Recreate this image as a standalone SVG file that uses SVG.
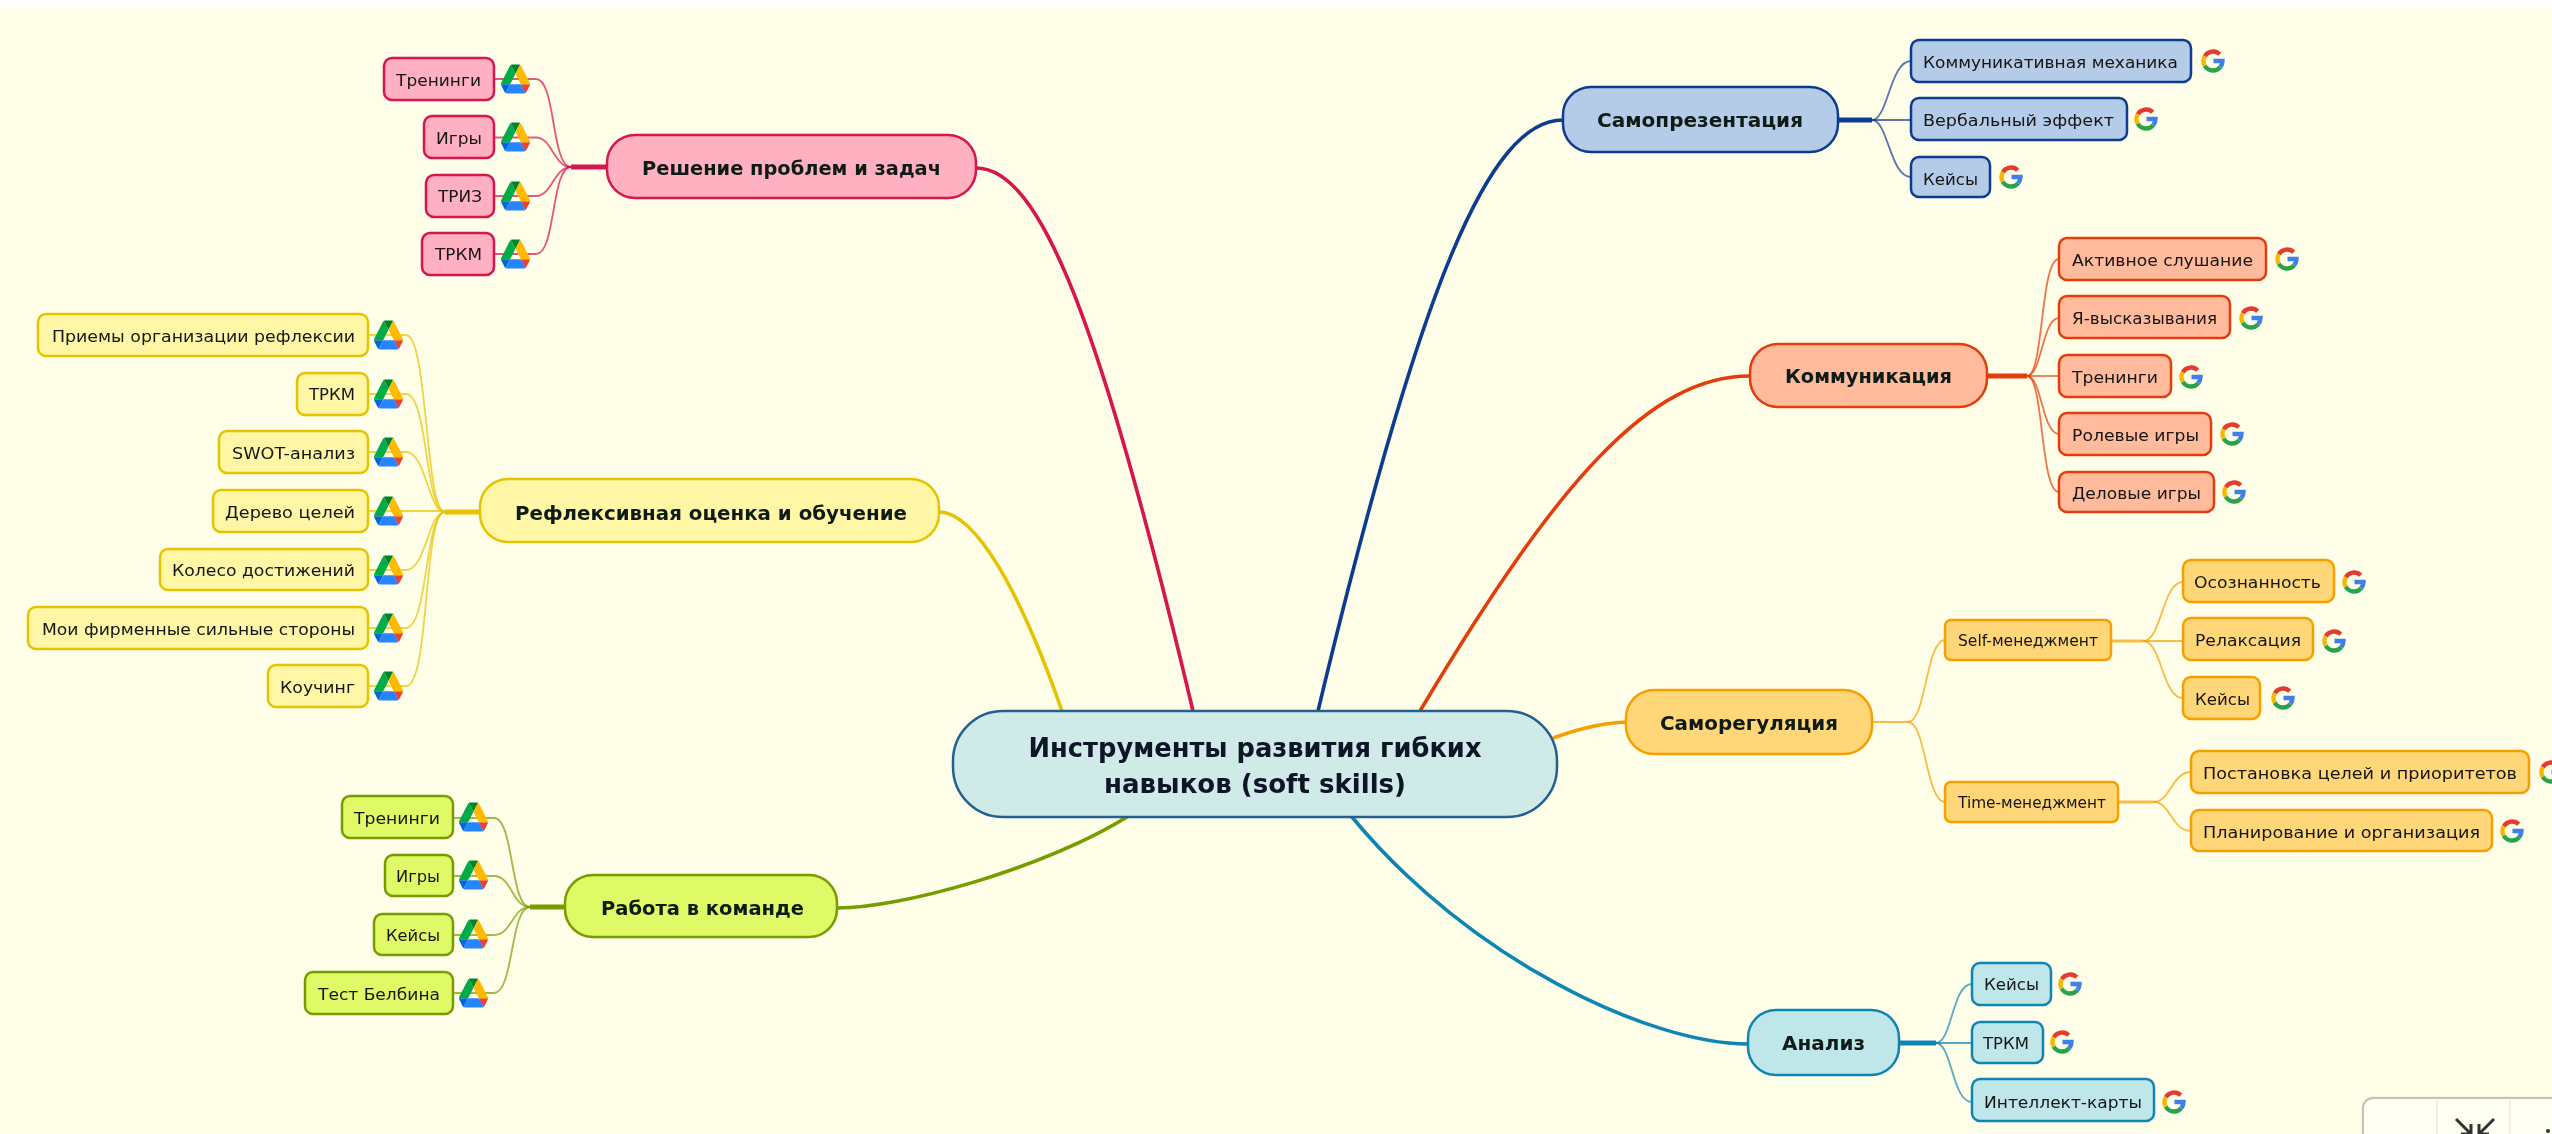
<svg xmlns="http://www.w3.org/2000/svg" width="2552" height="1134" viewBox="0 0 2552 1134">
<style>
text{font-family:"DejaVu Sans","Liberation Sans",sans-serif;fill:#151515;font-size:15.5px}
.m text,text.m{font-weight:bold;font-size:20px;fill:#101a14}
.c text{font-weight:bold;font-size:26px;fill:#0c1226}
rect{stroke-width:2.5}
.pink rect{fill:#ffb1c2;stroke:#d6124f}
.yel rect{fill:#fff6a6;stroke:#e6c300}
.grn rect{fill:#dffa66;stroke:#779c00}
.blu rect{fill:#b5cce9;stroke:#0e3a90}
.red rect{fill:#ffbb9c;stroke:#e13d0e}
.org rect{fill:#ffd778;stroke:#f5a000}
.tea rect{fill:#bfe7ea;stroke:#0f85b5}
.c rect{fill:#d0ebe7;stroke:#20618f}
#connectors path{fill:none}
.tk{stroke-width:3.6}
.hb{stroke-width:5}
.th{stroke-width:1.8;opacity:.7}
.pink-l{stroke:#d6124f}.yel-l{stroke:#e6c300}.grn-l{stroke:#779c00}.blu-l{stroke:#0e3a90}.red-l{stroke:#e13d0e}.org-l{stroke:#f5a000}.tea-l{stroke:#0f85b5}
</style>
<defs>
<filter id="soft" x="0" y="0" width="100%" height="100%" filterUnits="userSpaceOnUse"><feGaussianBlur stdDeviation="0.7"/></filter>
<symbol id="drive" viewBox="0 1.500 87.3 78" width="29" height="29" preserveAspectRatio="none" overflow="visible">
<path fill="#0066da" d="m6.6 66.85 3.85 6.65c.8 1.4 1.95 2.5 3.3 3.3l13.75-23.8h-27.5c0 1.55.4 3.1 1.2 4.5z"/>
<path fill="#00ac47" d="m43.65 25-13.75-23.8c-1.35.8-2.5 1.9-3.3 3.3l-25.4 44a9.06 9.06 0 0 0 -1.2 4.5h27.5z"/>
<path fill="#ea4335" d="m73.55 76.8c1.35-.8 2.5-1.9 3.3-3.3l1.6-2.75 7.65-13.25c.8-1.4 1.2-2.95 1.2-4.5h-27.502l5.852 11.5z"/>
<path fill="#00832d" d="m43.65 25 13.75-23.8c-1.35-.8-2.9-1.2-4.5-1.2h-18.5c-1.6 0-3.15.45-4.5 1.2z"/>
<path fill="#2684fc" d="m59.8 53h-32.3l-13.75 23.8c1.35.8 2.9 1.2 4.5 1.2h50.8c1.6 0 3.15-.45 4.5-1.2z"/>
<path fill="#ffba00" d="m73.4 26.5-12.7-22c-.8-1.4-1.95-2.5-3.3-3.3l-13.75 23.8 16.15 28h27.45c0-1.55-.4-3.1-1.2-4.5z"/>
</symbol>
<symbol id="goog" viewBox="0 0 24 24" width="24" height="24" overflow="visible">
<g fill="none" stroke-width="4.4">
<path stroke="#e33b2e" d="M18.7 5.3A9.5 9.5 0 0 0 3.77 7.25"/>
<path stroke="#f6b704" d="M3.77 7.25A9.5 9.5 0 0 0 3.77 16.75"/>
<path stroke="#2ba24c" d="M3.77 16.75A9.5 9.5 0 0 0 19.3 18.1"/>
<path stroke="#3f7ee8" d="M19.3 18.1A9.5 9.5 0 0 0 21.5 12H12.5"/>
</g>
</symbol>
</defs>
<rect x="0" y="0" width="2552" height="1134" fill="#fffee9" style="stroke:none"/>
<rect x="0" y="0" width="2552" height="8" fill="#ffffff" style="stroke:none"/>
<g filter="url(#soft)">
<g id="connectors">
<path class="tk pink-l" d="M976 168C1040 168 1100 320 1193 711"/>
<path class="tk yel-l" d="M939 512C975 512 1020 590 1062 711"/>
<path class="tk grn-l" d="M837 908C900 908 1040 870 1127 817"/>
<path class="tk blu-l" d="M1563 120C1490 120 1421 280 1318 711"/>
<path class="tk red-l" d="M1750 376C1650 376 1558 480 1420 711"/>
<path class="tk org-l" d="M1626 722C1600 723 1575 730 1553 738"/>
<path class="tk tea-l" d="M1748 1044C1650 1044 1470 960 1352 817"/>

<path class="hb pink-l" d="M571 167H607"/>
<path class="th pink-l" d="M494 79H536C556 79 551 167 571 167"/>
<path class="th pink-l" d="M494 137.500H536C552 137.500 554 167 571 167"/>
<path class="th pink-l" d="M494 196H536C552 196 554 167 571 167"/>
<path class="th pink-l" d="M494 254H536C556 254 551 167 571 167"/>

<path class="hb yel-l" d="M445 512H480"/>
<path class="th yel-l" d="M368 335H406C428 335 425 512 445 512"/>
<path class="th yel-l" d="M368 394H406C428 394 425 512 445 512"/>
<path class="th yel-l" d="M368 452H406C426 452 428 512 445 512"/>
<path class="th yel-l" d="M368 511H445"/>
<path class="th yel-l" d="M368 570H406C426 570 428 512 445 512"/>
<path class="th yel-l" d="M368 628H406C428 628 425 512 445 512"/>
<path class="th yel-l" d="M368 686H406C430 686 423 512 445 512"/>

<path class="hb grn-l" d="M530 907H565"/>
<path class="th grn-l" d="M453 818H494C514 818 510 907 530 907"/>
<path class="th grn-l" d="M453 876H494C512 876 512 907 530 907"/>
<path class="th grn-l" d="M453 935H494C512 935 512 907 530 907"/>
<path class="th grn-l" d="M453 993H494C514 993 510 907 530 907"/>

<path class="hb blu-l" d="M1838 120H1872"/>
<path class="th blu-l" d="M1872 120C1888 120 1890 61 1911 61"/>
<path class="th blu-l" d="M1872 120H1911"/>
<path class="th blu-l" d="M1872 120C1888 120 1890 177 1911 177"/>

<path class="hb red-l" d="M1987 376H2027"/>
<path class="th red-l" d="M2027 376C2044 376 2040 259 2059 259"/>
<path class="th red-l" d="M2027 376C2042 376 2042 318 2059 318"/>
<path class="th red-l" d="M2027 376H2059"/>
<path class="th red-l" d="M2027 376C2042 376 2042 434 2059 434"/>
<path class="th red-l" d="M2027 376C2044 376 2040 492 2059 492"/>

<path class="th org-l" d="M1872 722H1908C1926 722 1926 640 1945 640"/>
<path class="th org-l" d="M1908 722C1926 722 1926 802 1945 802"/>
<path class="th org-l" style="stroke-width:3" d="M2111 641H2143"/>
<path class="th org-l" d="M2143 641C2162 641 2162 582 2183 582"/>
<path class="th org-l" d="M2143 641H2183"/>
<path class="th org-l" d="M2143 641C2162 641 2162 698 2183 698"/>
<path class="th org-l" style="stroke-width:3" d="M2118 802H2154"/>
<path class="th org-l" d="M2154 802C2170 802 2172 772 2191 772"/>
<path class="th org-l" d="M2154 802C2170 802 2172 831 2191 831"/>

<path class="hb tea-l" d="M1899 1043H1936"/>
<path class="th tea-l" d="M1936 1043C1952 1043 1952 984 1972 984"/>
<path class="th tea-l" d="M1936 1043H1972"/>
<path class="th tea-l" d="M1936 1043C1952 1043 1952 1102 1972 1102"/>
</g>

<g id="center" class="c"><rect x="953" y="711" width="604" height="106" rx="50"/>
<text x="1255" y="757" text-anchor="middle" textLength="453" lengthAdjust="spacingAndGlyphs">Инструменты развития гибких</text>
<text x="1255" y="793" text-anchor="middle" textLength="302" lengthAdjust="spacingAndGlyphs">навыков (soft skills)</text></g>

<g id="problems" class="pink m"><rect x="607" y="135" width="369" height="63" rx="28"/><text x="642" y="175" textLength="299" lengthAdjust="spacingAndGlyphs">Решение проблем и задач</text></g>
<g id="p1" class="pink"><rect x="384" y="58" width="110" height="42" rx="8"/><text x="396" y="86" textLength="85" lengthAdjust="spacingAndGlyphs">Тренинги</text><use href="#drive" x="501" y="65"/></g>
<g id="p2" class="pink"><rect x="424" y="116" width="70" height="42" rx="8"/><text x="436" y="144" textLength="46" lengthAdjust="spacingAndGlyphs">Игры</text><use href="#drive" x="501" y="123"/></g>
<g id="p3" class="pink"><rect x="426" y="175" width="68" height="42" rx="8"/><text x="438" y="202" textLength="44" lengthAdjust="spacingAndGlyphs">ТРИЗ</text><use href="#drive" x="501" y="182"/></g>
<g id="p4" class="pink"><rect x="422" y="233" width="72" height="42" rx="8"/><text x="435" y="260" textLength="47" lengthAdjust="spacingAndGlyphs">ТРКМ</text><use href="#drive" x="501" y="240"/></g>

<g id="reflect" class="yel m"><rect x="480" y="479" width="459" height="63" rx="28"/><text x="515" y="520" textLength="392" lengthAdjust="spacingAndGlyphs">Рефлексивная оценка и обучение</text></g>
<g id="y1" class="yel"><rect x="38" y="314" width="330" height="42" rx="8"/><text x="52" y="342" textLength="303" lengthAdjust="spacingAndGlyphs">Приемы организации рефлексии</text><use href="#drive" x="374" y="321"/></g>
<g id="y2" class="yel"><rect x="297" y="373" width="71" height="42" rx="8"/><text x="309" y="400" textLength="46" lengthAdjust="spacingAndGlyphs">ТРКМ</text><use href="#drive" x="374" y="380"/></g>
<g id="y3" class="yel"><rect x="219" y="431" width="149" height="42" rx="8"/><text x="232" y="459" textLength="123" lengthAdjust="spacingAndGlyphs">SWOT-анализ</text><use href="#drive" x="374" y="438"/></g>
<g id="y4" class="yel"><rect x="213" y="490" width="155" height="42" rx="8"/><text x="225" y="518" textLength="130" lengthAdjust="spacingAndGlyphs">Дерево целей</text><use href="#drive" x="374" y="497"/></g>
<g id="y5" class="yel"><rect x="160" y="549" width="208" height="41" rx="8"/><text x="172" y="576" textLength="183" lengthAdjust="spacingAndGlyphs">Колесо достижений</text><use href="#drive" x="374" y="556"/></g>
<g id="y6" class="yel"><rect x="28" y="607" width="340" height="42" rx="8"/><text x="42" y="635" textLength="313" lengthAdjust="spacingAndGlyphs">Мои фирменные сильные стороны</text><use href="#drive" x="374" y="614"/></g>
<g id="y7" class="yel"><rect x="268" y="665" width="100" height="42" rx="8"/><text x="280" y="693" textLength="75" lengthAdjust="spacingAndGlyphs">Коучинг</text><use href="#drive" x="374" y="672"/></g>

<g id="team" class="grn m"><rect x="565" y="875" width="272" height="62" rx="28"/><text x="601" y="915" textLength="203" lengthAdjust="spacingAndGlyphs">Работа в команде</text></g>
<g id="g1" class="grn"><rect x="342" y="796" width="111" height="42" rx="8"/><text x="354" y="824" textLength="86" lengthAdjust="spacingAndGlyphs">Тренинги</text><use href="#drive" x="459" y="803"/></g>
<g id="g2" class="grn"><rect x="385" y="855" width="68" height="41" rx="8"/><text x="396" y="882" textLength="44" lengthAdjust="spacingAndGlyphs">Игры</text><use href="#drive" x="459" y="861"/></g>
<g id="g3" class="grn"><rect x="374" y="914" width="79" height="41" rx="8"/><text x="386" y="941" textLength="54" lengthAdjust="spacingAndGlyphs">Кейсы</text><use href="#drive" x="459" y="920"/></g>
<g id="g4" class="grn"><rect x="305" y="972" width="148" height="42" rx="8"/><text x="318" y="1000" textLength="122" lengthAdjust="spacingAndGlyphs">Тест Белбина</text><use href="#drive" x="459" y="979"/></g>

<g id="selfpres" class="blu m"><rect x="1563" y="87" width="275" height="65" rx="28"/><text x="1597" y="127" textLength="206" lengthAdjust="spacingAndGlyphs">Самопрезентация</text></g>
<g id="b1" class="blu"><rect x="1911" y="40" width="280" height="42" rx="8"/><text x="1923" y="68" textLength="255" lengthAdjust="spacingAndGlyphs">Коммуникативная механика</text><use href="#goog" x="2201" y="49"/></g>
<g id="b2" class="blu"><rect x="1911" y="98" width="216" height="42" rx="8"/><text x="1923" y="126" textLength="191" lengthAdjust="spacingAndGlyphs">Вербальный эффект</text><use href="#goog" x="2134" y="107"/></g>
<g id="b3" class="blu"><rect x="1911" y="157" width="79" height="40" rx="8"/><text x="1923" y="185" textLength="55" lengthAdjust="spacingAndGlyphs">Кейсы</text><use href="#goog" x="1999" y="165"/></g>

<g id="comm" class="red m"><rect x="1750" y="344" width="237" height="63" rx="28"/><text x="1785" y="383" textLength="167" lengthAdjust="spacingAndGlyphs">Коммуникация</text></g>
<g id="r1" class="red"><rect x="2059" y="238" width="207" height="42" rx="8"/><text x="2072" y="266" textLength="181" lengthAdjust="spacingAndGlyphs">Активное слушание</text><use href="#goog" x="2275" y="247"/></g>
<g id="r2" class="red"><rect x="2059" y="296" width="171" height="42" rx="8"/><text x="2072" y="324" textLength="145" lengthAdjust="spacingAndGlyphs">Я-высказывания</text><use href="#goog" x="2239" y="306"/></g>
<g id="r3" class="red"><rect x="2059" y="355" width="112" height="42" rx="8"/><text x="2072" y="383" textLength="86" lengthAdjust="spacingAndGlyphs">Тренинги</text><use href="#goog" x="2179" y="365"/></g>
<g id="r4" class="red"><rect x="2059" y="413" width="152" height="42" rx="8"/><text x="2072" y="441" textLength="127" lengthAdjust="spacingAndGlyphs">Ролевые игры</text><use href="#goog" x="2220" y="422"/></g>
<g id="r5" class="red"><rect x="2059" y="472" width="155" height="40" rx="8"/><text x="2072" y="499" textLength="129" lengthAdjust="spacingAndGlyphs">Деловые игры</text><use href="#goog" x="2222" y="480"/></g>

<g id="selfreg" class="org m"><rect x="1626" y="690" width="246" height="64" rx="28"/><text x="1660" y="730" textLength="178" lengthAdjust="spacingAndGlyphs">Саморегуляция</text></g>
<g id="o1" class="org"><rect x="1945" y="620" width="166" height="40" rx="6"/><text x="1958" y="646" textLength="140" lengthAdjust="spacingAndGlyphs">Self-менеджмент</text></g>
<g id="o2" class="org"><rect x="1945" y="782" width="173" height="40" rx="6"/><text x="1958" y="808" textLength="148" lengthAdjust="spacingAndGlyphs">Time-менеджмент</text></g>
<g id="o11" class="org"><rect x="2183" y="560" width="151" height="42" rx="8"/><text x="2194" y="588" textLength="127" lengthAdjust="spacingAndGlyphs">Осознанность</text><use href="#goog" x="2342" y="570"/></g>
<g id="o12" class="org"><rect x="2183" y="618" width="130" height="42" rx="8"/><text x="2195" y="646" textLength="106" lengthAdjust="spacingAndGlyphs">Релаксация</text><use href="#goog" x="2322" y="629"/></g>
<g id="o13" class="org"><rect x="2183" y="677" width="77" height="42" rx="8"/><text x="2195" y="705" textLength="55" lengthAdjust="spacingAndGlyphs">Кейсы</text><use href="#goog" x="2271" y="686"/></g>
<g id="o21" class="org"><rect x="2191" y="751" width="338" height="42" rx="8"/><text x="2203" y="779" textLength="314" lengthAdjust="spacingAndGlyphs">Постановка целей и приоритетов</text><use href="#goog" x="2539" y="760"/></g>
<g id="o22" class="org"><rect x="2191" y="810" width="301" height="41" rx="8"/><text x="2203" y="838" textLength="277" lengthAdjust="spacingAndGlyphs">Планирование и организация</text><use href="#goog" x="2500" y="819"/></g>

<g id="analysis" class="tea m"><rect x="1748" y="1010" width="151" height="65" rx="28"/><text x="1782" y="1050" textLength="83" lengthAdjust="spacingAndGlyphs">Анализ</text></g>
<g id="t1" class="tea"><rect x="1972" y="963" width="79" height="42" rx="8"/><text x="1984" y="990" textLength="55" lengthAdjust="spacingAndGlyphs">Кейсы</text><use href="#goog" x="2058" y="972"/></g>
<g id="t2" class="tea"><rect x="1972" y="1022" width="71" height="41" rx="8"/><text x="1983" y="1049" textLength="46" lengthAdjust="spacingAndGlyphs">ТРКМ</text><use href="#goog" x="2050" y="1030"/></g>
<g id="t3" class="tea"><rect x="1972" y="1079" width="182" height="42" rx="8"/><text x="1984" y="1108" textLength="158" lengthAdjust="spacingAndGlyphs">Интеллект-карты</text><use href="#goog" x="2162" y="1090"/></g>

<g id="panel">
<rect x="2361" y="1096" width="220" height="60" rx="12" fill="#f5ecd8" style="stroke:none" opacity=".6"/>
<rect x="2363" y="1098" width="220" height="60" rx="10" fill="#fffef2" style="stroke:#c8c0b2;stroke-width:2"/>
<path d="M2437 1100V1134M2510 1100V1134" stroke="#f0ebdd" stroke-width="1.500" fill="none"/>
<path d="M2456 1119L2471 1134M2471 1124V1134H2461M2494 1119L2479 1134M2479 1124V1134H2489" stroke="#333" stroke-width="3" fill="none"/>
<circle cx="2548" cy="1131" r="2" fill="#333"/>
</g>
</g>
</svg>
